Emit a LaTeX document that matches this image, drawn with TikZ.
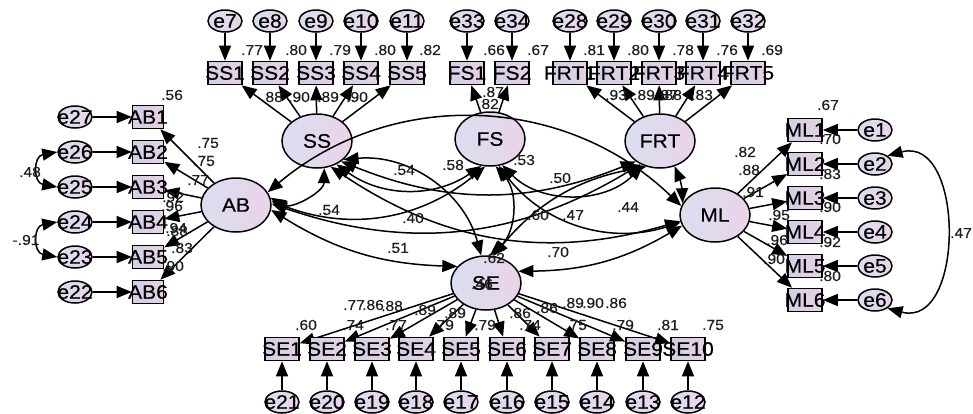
\documentclass[tikz,border=0pt]{standalone}
\usepackage{fontspec}
\setmainfont{Liberation Sans}[FakeStretch=1.08,FakeBold=0.3]
\usetikzlibrary{arrows.meta,shapes.geometric}
\definecolor{latA}{RGB}{218,222,240}
\definecolor{latB}{RGB}{234,212,232}
\definecolor{obsA}{RGB}{212,206,228}
\definecolor{obsB}{RGB}{228,210,228}
\definecolor{numC}{RGB}{30,30,30}
\begin{document}
\begin{tikzpicture}[x=1pt,y=-1pt,
  lat/.style={ellipse, draw, line width=1.5pt, minimum width=70pt, minimum height=54pt, inner sep=0pt, left color=latA, right color=latB, font=\fontsize{19.5}{19.5}\selectfont},
  obs/.style={rectangle, draw, line width=1.6pt, minimum width=34pt, minimum height=23pt, inner sep=0pt, left color=obsA, right color=obsB},
  err/.style={ellipse, draw, line width=1.5pt, minimum width=34pt, minimum height=22pt, inner sep=0pt, left color=latA, right color=latB},
  blab/.style={font=\fontsize{19.5}{19.5}\selectfont, inner sep=0pt},
  num/.style={font=\fontsize{14.5}{14.5}\selectfont, inner sep=0pt, text=numC},
  tip/.tip={Triangle[length=15pt,width=12pt]},
  arr/.style={line width=1.5pt, -tip},
  cor/.style={line width=1.5pt, tip-tip},
]
\useasboundingbox (0,0) rectangle (973,413);

% latent variables
\node[lat] (SS) at (317,141) {SS};
\node[lat] (FS) at (490,139) {FS};
\node[lat] (FRT) at (660,141) {FRT};
\node[lat] (AB) at (236,205) {AB};
\node[lat] (ML) at (715,215) {ML};
\node[lat] (SE) at (486,283) {SE};

% top indicators
\foreach \n/\e/\x in {SS1/e7/225, SS2/e8/270, SS3/e9/316, SS4/e10/361, SS5/e11/407, FS1/e33/467, FS2/e34/512, FRT1/e28/570, FRT2/e29/614, FRT3/e30/659, FRT4/e31/703, FRT5/e32/748} {
  \node[obs, label={[blab]center:\n}] (\n) at (\x,73) {};
  \node[err, label={[blab]center:\e}] (\e) at (\x,21) {};
  \draw[arr] (\e) -- (\n);
}
\foreach \n in {SS1,SS2,SS3,SS4,SS5} \draw[arr] (SS) -- (\n);
\foreach \n in {FS1,FS2} \draw[arr] (FS) -- (\n);
\foreach \n in {FRT1,FRT2,FRT3,FRT4,FRT5} \draw[arr] (FRT) -- (\n);

% left indicators
\foreach \n/\e/\y in {AB1/e27/117, AB2/e26/152, AB3/e25/187, AB4/e24/222, AB5/e23/257, AB6/e22/292} {
  \node[obs, minimum width=31pt, minimum height=23pt, label={[blab]center:\n}] (\n) at (148,\y) {};
  \node[err, label={[blab]center:\e}] (\e) at (75,\y) {};
  \draw[arr] (\e) -- (\n);
  \draw[arr] (AB) -- (\n);
}
\draw[cor] (e26.west) to[out=190,in=170,looseness=1.8] (e25.west);
\draw[cor] (e24.west) to[out=190,in=170,looseness=1.8] (e23.west);

% right indicators
\foreach \n/\e/\y in {ML1/e1/130, ML2/e2/164, ML3/e3/198, ML4/e4/232, ML5/e5/266, ML6/e6/300} {
  \node[obs, label={[blab]center:\n}] (\n) at (805,\y) {};
  \node[err, label={[blab]center:\e}] (\e) at (875,\y) {};
  \draw[arr] (\e) -- (\n);
  \draw[arr] (ML) -- (\n);
}
\draw[cor] (e2.north east) to[out=15,in=-15,looseness=1.35] (e6.south east);

% bottom indicators
\foreach \n/\e/\x in {SE1/e21/282, SE2/e20/327, SE3/e19/372, SE4/e18/416, SE5/e17/461, SE6/e16/507, SE7/e15/552, SE8/e14/597, SE9/e13/643, SE10/e12/688} {
  \node[obs, label={[blab]center:\n}] (\n) at (\x,349) {};
  \node[err, label={[blab]center:\e}] (\e) at (\x,402) {};
  \draw[arr] (\e) -- (\n);
  \draw[arr] (SE) -- (\n);
}

% correlations
\draw[cor] (AB.12) to[bend right=60] (SS.-75);
\draw[cor] (AB.6) to[bend right=30] (FS.-100);
\draw[cor] (AB.2) to[bend right=25] (FRT.-130);
\draw[cor] (AB.22) to[bend left=42] (ML.165);
\draw[cor] (AB.-8) to[bend right=15] (SE.150);
\draw[cor] (SS.-50) to[bend right=35] (FS.-108);
\draw[cor] (SS.-40) to[bend right=22] (FRT.-140);
\draw[cor] (SS.-62) to[bend right=25] (ML.190);
\draw[cor] (SS.-35) to[bend left=40] (SE.100);
\draw[cor] (FS.-65) to[bend right=45] (FRT.-125);
\draw[cor] (FS.-72) to[bend right=35] (ML.192);
\draw[cor] (FS.-78) to[bend left=45] (SE.82);
\draw[cor] (FRT.-60) to[bend left=10] (ML.160);
\draw[cor] (FRT.-118) to[bend right=20] (SE.75);
\draw[cor] (ML.198) to[bend left=15] (SE.20);

% numeric labels
\foreach \t/\x/\y [count=\i] in {
  .77/252/50, .80/296/50, .79/340/50, .80/385/50, .82/430/50, .66/494/50, .67/538/50,
  .81/594/50, .80/638/50, .78/683/50, .76/727/50, .69/772/50,
  .88/272/97, .90/299/97, .89/328/97, .90/357/97, .87/493/92, .82/488/104,
  .93/616/95, .89/644/95, .87/667/95, .88/671/95, .83/702/95,
  .56/172/95, .75/208/143, .75/204/161, .77/198/180, .92/173/197, .96/172/206,
  .94/176/228, .88/177/231, .83/182/248, .90/173/266, -.91/26/240, .48/30/172,
  .67/828/105, .70/830/139, .82/745/152, .88/749/170, .83/830/174, .91/753/192,
  .90/830/207, .95/779/215, .92/830/242, .96/777/240, .90/774/259, .80/830/276, .47/961/233,
  .77/354/305, .86/373/305, .88/392/306, .89/425/310, .89/455/313, .86/520/313,
  .86/547/308, .89/573/303, .90/593/303, .86/616/303,
  .60/306/325, .74/353/325, .77/396/325, .79/443/325, .79/485/325, .74/530/325,
  .75/576/325, .79/623/325, .81/668/325, .75/713/325,
  .54/404/170, .58/453/165, .53/524/160, .50/560/178, .54/329/210, .40/413/218,
  .60/538/215, .47/573/215, .44/628/207, .51/398/248, .70/558/252, .62/494/258, .46/482/284}
  \node[num] (n\i) at (\x,\y) {\t};
\end{tikzpicture}
\end{document}
